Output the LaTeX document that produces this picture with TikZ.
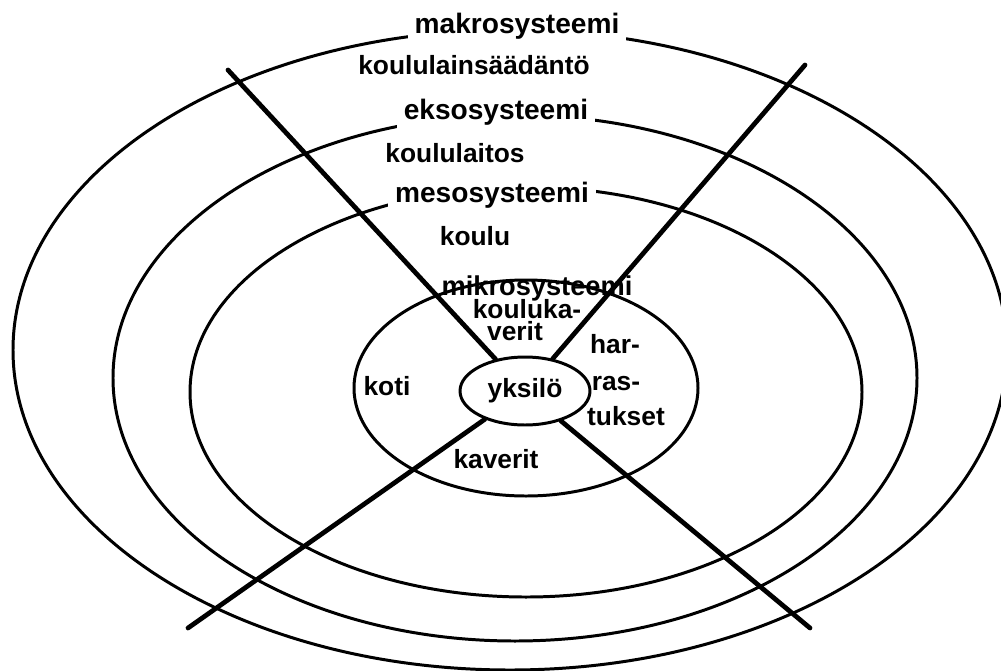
\documentclass[tikz,border=0pt]{standalone}
\usepackage{fontspec}
\setmainfont{Liberation Sans}
\usepackage{tikz}
\usetikzlibrary{shapes.geometric}

\begin{document}
\begin{tikzpicture}[x=0.02cm, y=-0.02cm,
    ring/.style={line width=1.7pt},
    xline/.style={line width=2.7pt, line cap=round},
    lbl/.style={anchor=base, inner sep=0pt, font=\bfseries\fontsize{15}{15}\selectfont},
    toplbl/.style={lbl, fill=white, inner xsep=4pt, inner ysep=3pt, font=\bfseries\fontsize{16}{16}\selectfont}]
  \useasboundingbox (0,0) rectangle (1001,670);
  % nested systems
  \foreach \cx/\cy/\rx/\ry in {510/350/497/320, 515/378/402/263, 526/392/336/205, 526/388/172/108} {
    \draw[ring] (\cx,\cy) ellipse [x radius=\rx, y radius=\ry];
  }
  \node[ellipse, draw, line width=1.7pt, minimum width=2.6cm, minimum height=1.36cm,
        inner sep=0pt, font=\bfseries\fontsize{15}{15}\selectfont] (yksilo) at (525,391) {yksilö};
  \coordinate (ul) at (228,70);
  \coordinate (ur) at (805,65);
  \coordinate (ll) at (188,628);
  \coordinate (lr) at (810,628);
  \foreach \c in {ul, ur, ll, lr} {
    \draw[xline] (\c) -- (yksilo);
  }
  % labels
  \node[toplbl] (makro) at (517,33) {makrosysteemi};
  \node[toplbl] (ekso) at (496,119) {eksosysteemi};
  \node[toplbl] (meso) at (492,202) {mesosysteemi};
  \node[lbl] (laki) at (474,74) {koululainsäädäntö};
  \node[lbl] (laitos) at (455,162) {koululaitos};
  \node[lbl] (koulu) at (475,245) {koulu};
  \node[lbl, font=\bfseries\fontsize{15.5}{15}\selectfont] (mikro) at (537,295) {mikrosysteemi};
  \node[lbl] (kaveri1) at (527,318) {kouluka-};
  \node[lbl] (kaveri2) at (515,340) {verit};
  \node[lbl] (koti) at (387,395) {koti};
  \node[lbl] (harr1) at (615,353) {har-};
  \node[lbl] (harr2) at (616,390) {ras-};
  \node[lbl] (harr3) at (626,425) {tukset};
  \node[lbl] (kaverit) at (496,468) {kaverit};
\end{tikzpicture}
\end{document}
